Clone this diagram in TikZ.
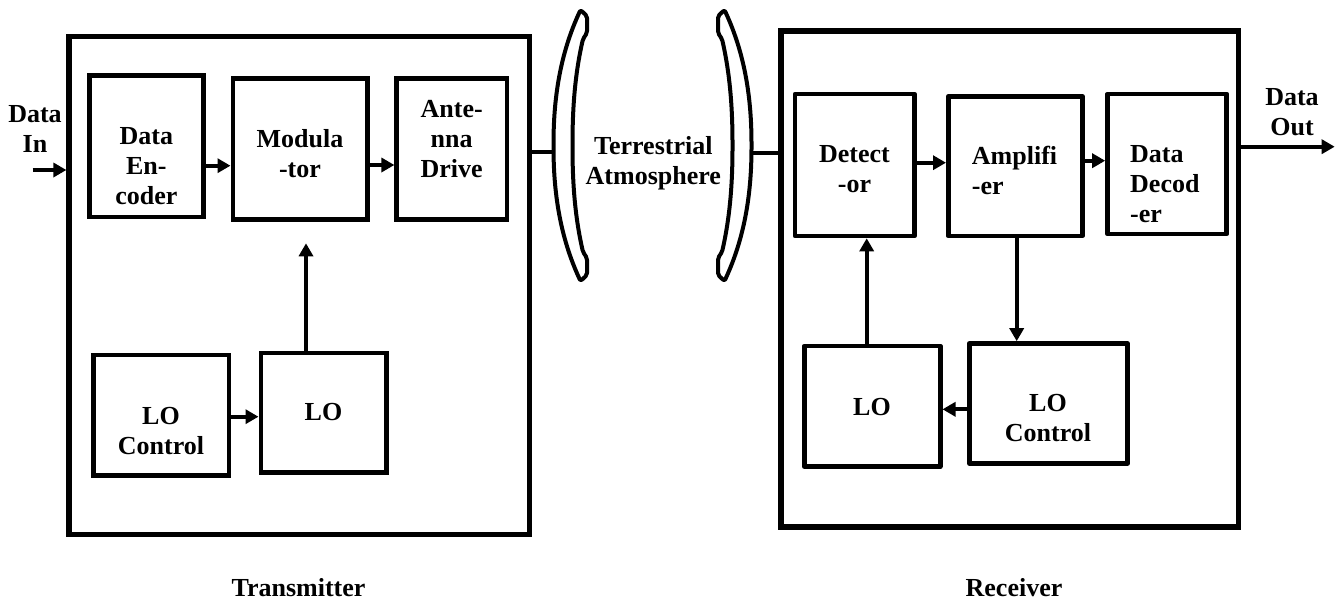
\documentclass[tikz,border=0pt]{standalone}
\usepackage{fontspec}
\setmainfont{Liberation Serif}
\usetikzlibrary{arrows.meta}

% stacked multi-line labels; the node baseline is the first line's baseline
\newcommand\stackc[1]{\begin{tabular}[t]{@{}c@{}}#1\end{tabular}}
\newcommand\stackl[1]{\begin{tabular}[t]{@{}l@{}}#1\end{tabular}}

% one bracket-shaped lens, drawn about a vertical axis at x = 0
\newcommand\lensoutline{%
  \draw[lensline] (-65.5,33) -- (-65.5,16) -- (-72,10)
    .. controls (-93,55) and (-99,100) .. (-99,145.5)
    .. controls (-99,191) and (-93,236) .. (-72,281)
    -- (-65.5,275) -- (-65.5,258) -- (-69.5,252)
    .. controls (-78,215) and (-80,180) .. (-80,145.5)
    .. controls (-80,111) and (-78,76) .. (-69.5,39) -- cycle;}

\begin{document}
\begin{tikzpicture}[x=1pt,y=-1pt,
  frame/.style={draw, line width=5.2pt, inner sep=0pt},
  block/.style={draw, line width=4.6pt, inner sep=0pt},
  rblock/.style={block, line join=round},
  lbl/.style={inner sep=0pt, font=\bfseries\fontsize{26}{30}\selectfont},
  wire/.style={line width=4pt},
  arr/.style={line width=4pt, -{Triangle[length=13pt,width=14pt]}},
  lensline/.style={line width=4pt, line join=round, rounded corners=2pt}]

\useasboundingbox (0,0) rectangle (1344,600);

% ---------- transmitter ----------
\node[frame, minimum width=460.2pt, minimum height=497.8pt] (tx) at (299.1,285.6) {};
\node[block, minimum width=113.8pt, minimum height=141.3pt] (enc) at (146.4,146.35) {};
\node[block, minimum width=134.5pt, minimum height=141pt] (mod) at (300.05,149) {};
\node[block, minimum width=110.1pt, minimum height=140.6pt] (ant) at (451.75,149) {};
\node[block, minimum width=135.7pt, minimum height=120.7pt] (tloc) at (161.15,415.35) {};
\node[block, minimum width=125.9pt, minimum height=119.4pt] (tlo) at (323.75,412.5) {};

\node[lbl, anchor=base] (tDataIn) at (35,122.7) {\stackc{Data\\In}};
\node[lbl, anchor=base] (tEnc) at (146.3,144.5) {\stackc{Data\\En-\\coder}};
\node[lbl, anchor=base] (tMod) at (300,147.7) {\stackc{Modula\\-tor}};
\node[lbl, anchor=base] (tAnt) at (451.7,117) {\stackc{Ante-\\nna\\Drive}};
\node[lbl, anchor=base] (tTloc) at (161,424) {\stackc{LO\\Control}};
\node[lbl, anchor=base] (tTlo) at (323.5,420.7) {LO};
\node[lbl, anchor=base] (tTx) at (298.5,596.7) {Transmitter};

\coordinate (din) at (32.7,170);
\coordinate (modin) at (306,243.3);
\draw[arr] (din) -- (tx.west |- din);
\draw[arr] (enc.east |- 0,165.7) -- (mod.west |- 0,165.7);
\draw[arr] (mod.east |- 0,165) -- (ant.west |- 0,165);
\draw[arr] (tlo.north -| modin) -- (modin);
\draw[arr] (tloc.east |- 0,416.7) -- (tlo.west |- 0,416.7);

% ---------- channel ----------
\begin{scope}[shift={(652.5,0)}]
  \lensoutline
\end{scope}
\begin{scope}[shift={(652.5,0)}, xscale=-1]
  \lensoutline
\end{scope}
\node[lbl, anchor=base] (tAtm) at (653.3,154) {\stackc{Terrestrial\\Atmosphere}};
\coordinate (lensL) at (553.5,151.7);
\coordinate (lensR) at (751.5,153.3);

% ---------- receiver ----------
\node[frame, minimum width=457.5pt, minimum height=496pt] (rx) at (1009.75,279) {};
\node[rblock, minimum width=119.3pt, minimum height=142pt] (det) at (854.65,165) {};
\node[rblock, minimum width=133.9pt, minimum height=139.8pt] (amp) at (1015.25,166.1) {};
\node[rblock, minimum width=119.2pt, minimum height=140.2pt] (dec) at (1167.1,163.9) {};
\node[rblock, minimum width=136pt, minimum height=120.5pt] (rlo) at (872.2,406.25) {};
\node[rblock, minimum width=158.3pt, minimum height=119.8pt] (rloc) at (1048.35,403.4) {};

\node[lbl, anchor=base] (tDet) at (854.5,162.3) {\stackc{Detect\\-or}};
\node[lbl, anchor=base west] (tAmp) at (971.7,164) {\stackl{Amplifi\\-er}};
\node[lbl, anchor=base west] (tDec) at (1130,162.3) {\stackl{Data\\Decod\\-er}};
\node[lbl, anchor=base] (tDataOut) at (1292,105) {\stackc{Data\\Out}};
\node[lbl, anchor=base] (tRlo) at (872,415) {LO};
\node[lbl, anchor=base] (tRloc) at (1048,411.7) {\stackc{LO\\Control}};
\node[lbl, anchor=base] (tRx) at (1014,596) {Receiver};

\coordinate (dout) at (1334.7,146.7);
\draw[wire] (tx.east |- lensL) -- (lensL);
\draw[wire] (lensR) -- (rx.west |- lensR);
\draw[arr] (det.east |- 0,162.7) -- (amp.west |- 0,162.7);
\draw[arr] (amp.east |- 0,160.7) -- (dec.west |- 0,160.7);
\draw[arr] (rx.east |- dout) -- (dout);
\draw[arr] (rlo.north -| 866.7,0) -- (det.south -| 866.7,0);
\draw[arr] (amp.south -| 1016.7,0) -- (rloc.north -| 1016.7,0);
\draw[arr] (rloc.west |- 0,409.3) -- (rlo.east |- 0,409.3);
\end{tikzpicture}
\end{document}
